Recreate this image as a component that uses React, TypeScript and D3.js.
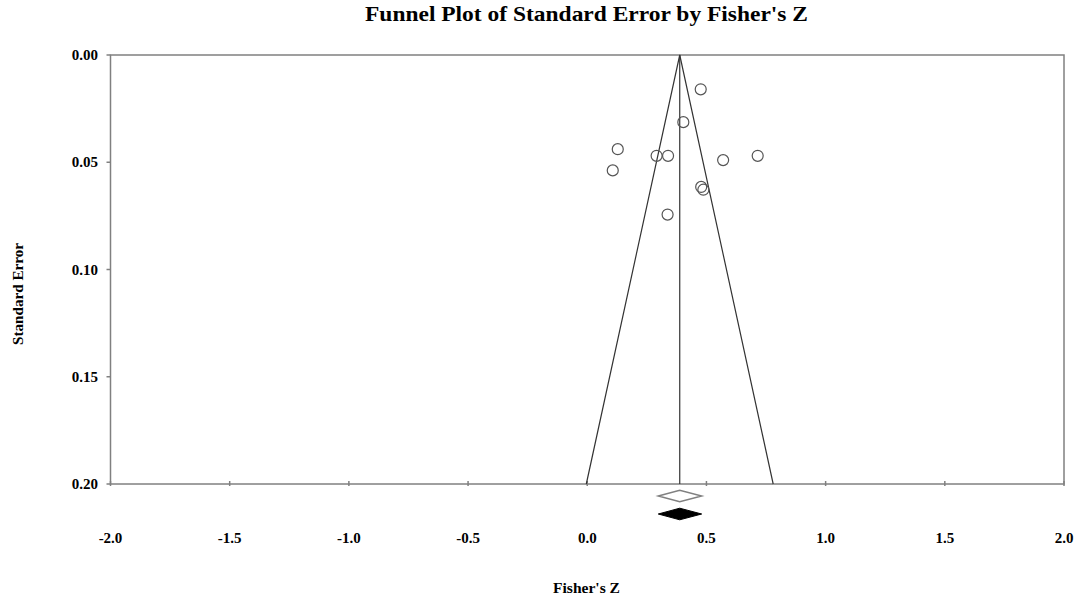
import React from "react";
import * as d3 from "d3";

const studyZ = [0.476, 0.403, 0.128, 0.291, 0.339, 0.570, 0.715, 0.107, 0.478, 0.487, 0.337];
const studySE = [0.016, 0.0313, 0.0439, 0.047, 0.047, 0.049, 0.047, 0.0538, 0.0615, 0.0628, 0.0744];
const xTicks = [-2.0, -1.5, -1.0, -0.5, 0.0, 0.5, 1.0, 1.5, 2.0];
const yTicks = [0.0, 0.05, 0.1, 0.15, 0.2];
const pooledZ = 0.388;
const pooledLow = 0.298;
const pooledHigh = 0.48;

const W = 1079;
const H = 603;
const FONT = "'Times New Roman', 'Liberation Serif', serif";

export default function App() {
  const x = d3.scaleLinear().domain([-2, 2]).range([110.5, 1064]);
  const y = d3.scaleLinear().domain([0, 0.2]).range([55, 484]);
  const seMax = 0.2;
  const funnel = d3.line<[number, number]>()
    .x((d) => x(d[0]))
    .y((d) => y(d[1]));
  const funnelPts: [number, number][] = [
    [pooledZ - 1.96 * seMax, seMax],
    [pooledZ, 0],
    [pooledZ + 1.96 * seMax, seMax],
  ];
  const diamond = (yc: number) => {
    const h = 5.8;
    return `M${x(pooledLow)},${yc} L${x(pooledZ)},${yc - h} L${x(pooledHigh)},${yc} L${x(pooledZ)},${yc + h} Z`;
  };
  const axisColor = "#808080";
  return (
    <svg width={W} height={H} style={{ position: "absolute", left: 0, top: 0, background: "#fff" }} fontFamily={FONT}>
      <text x={365} y={20.5} fontSize={21} fontWeight="bold" fill="#000" textLength={443} lengthAdjust="spacingAndGlyphs">
        Funnel Plot of Standard Error by Fisher's Z
      </text>
      {/* plot box */}
      <rect x={x(-2)} y={y(0)} width={x(2) - x(-2)} height={y(0.2) - y(0)} fill="none" stroke={axisColor} strokeWidth={1.5} />
      {/* y ticks */}
      {yTicks.map((t) => (
        <g key={"y" + t}>
          <line x1={x(-2) - 4} x2={x(-2)} y1={y(t)} y2={y(t)} stroke={axisColor} strokeWidth={1.5} />
          <text x={98} y={y(t) + 5} textAnchor="end" fontSize={15} fontWeight="bold" fill="#000">
            {t.toFixed(2)}
          </text>
        </g>
      ))}
      {/* x ticks */}
      {xTicks.map((t) => (
        <g key={"x" + t}>
          <line x1={x(t)} x2={x(t)} y1={y(0.2) - 3} y2={y(0.2) + 2} stroke={axisColor} strokeWidth={1.5} />
          <text x={x(t)} y={543} textAnchor="middle" fontSize={15} fontWeight="bold" fill="#000">
            {t.toFixed(1)}
          </text>
        </g>
      ))}
      {/* funnel */}
      <path d={funnel(funnelPts) || ""} fill="none" stroke="#333" strokeWidth={1.2} />
      <line x1={x(pooledZ)} x2={x(pooledZ)} y1={y(0)} y2={y(0.2)} stroke="#333" strokeWidth={1.2} />
      {/* studies */}
      {studyZ.map((z, i) => (
        <circle key={i} cx={x(z)} cy={y(studySE[i])} r={5.5} fill="none" stroke="#555" strokeWidth={1.2} />
      ))}
      {/* diamonds */}
      <path d={diamond(496)} fill="#fff" stroke="#808080" strokeWidth={1.5} />
      <path d={diamond(514)} fill="#000" stroke="#000" strokeWidth={1} />
      <text x={553} y={592.5} fontSize={14} fontWeight="bold" fill="#000" textLength={67} lengthAdjust="spacingAndGlyphs">
        Fisher's Z
      </text>
      <text transform="translate(23,345) rotate(-90)" fontSize={14} fontWeight="bold" fill="#000" textLength={102} lengthAdjust="spacingAndGlyphs">
        Standard Error
      </text>
    </svg>
  );
}
